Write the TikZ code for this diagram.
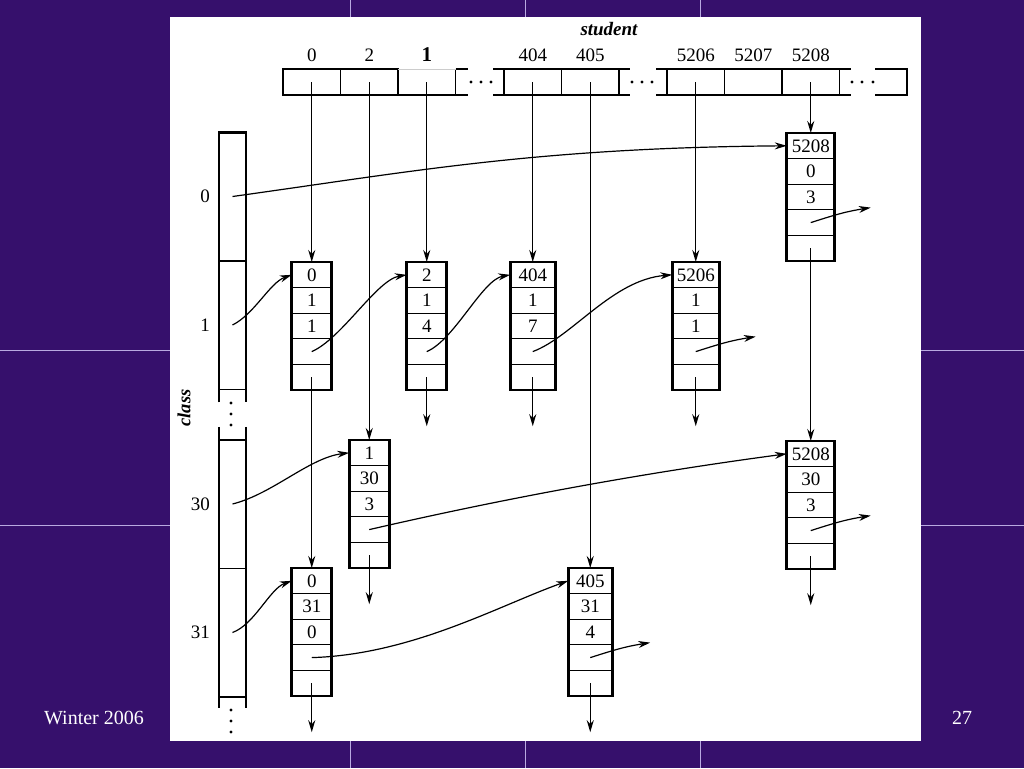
\documentclass[tikz,border=0pt]{standalone}
\usepackage{fontspec}
\setmainfont{Liberation Serif}
\usetikzlibrary{positioning,arrows.meta}
\definecolor{slidebg}{RGB}{54,16,108}
\definecolor{tileline}{RGB}{185,170,225}
\tikzset{
    cell/.style = {rectangle, draw, line width=1.3pt, minimum height=25.6pt, inner sep=0pt, outer sep=0pt, font=\fontsize{19}{21}\selectfont},
    field/.style = {rectangle, line width=1.8pt, minimum width=57.5pt, minimum height=26pt, inner sep=0pt, outer sep=0pt},
    slot/.style = {rectangle, draw, line width=1.5pt, minimum width=27pt, minimum height=128.5pt, inner sep=0pt, outer sep=0pt},
    tag/.style = {inner sep=0pt, font=\fontsize{19}{21}\selectfont},
    rim/.style = {line width=2.6pt},
    arrow/.style = {line width=1.4pt,->,>={Stealth[length=12pt,width=7pt]}},
    link/.style = {line width=1.2pt,->,>={Stealth[length=12pt,width=7pt]}}
}
% one enrollment record: name, position, width, three fields
\newcommand{\record}[6]{%
  \node (#1-1) [cell, minimum width=#3] at (#2) {#4};
  \node (#1-2) [cell, minimum width=#3, below=0pt of #1-1] {#5};
  \node (#1-3) [cell, minimum width=#3, below=0pt of #1-2] {#6};
  \node (#1-4) [cell, minimum width=#3, below=0pt of #1-3] {};
  \node (#1-5) [cell, minimum width=#3, below=0pt of #1-4] {};
  \draw [rim] (#1-1.north west) rectangle (#1-5.south east);
}

\begin{document}
\begin{tikzpicture}[x=1pt, y=-1pt]
\useasboundingbox (0,0) rectangle (1024,768);
% slide
\fill [slidebg] (0,0) rectangle (1024,768);
\foreach \x in {350,525,700} \draw [tileline] (\x,0) -- (\x,768);
\foreach \y in {350,525} \draw [tileline] (0,\y) -- (1024,\y);
\fill [white] (170,17) rectangle (921,741);
\node (foot) [text=white, font=\fontsize{20}{22}\selectfont] at (94,718) {Winter 2006};
\node (page) [text=white, font=\fontsize{20}{22}\selectfont] at (962,718) {27};

% student array
\node (s0) [field, draw] at (311.75,82) {};
\node (s2) [field, draw, right=0pt of s0] {};
\node (s1) [field, right=0pt of s2] {};
\draw [line width=1.8pt] (s1.north west) -- (s1.south west) -- (s1.south east) -- (s1.north east);
\draw [gray!40] (s1.north west) -- (s1.north east);
\draw [line width=1.8pt] (s1.north east) -- +(12,0) (s1.south east) -- +(12,0);
\node (s404) [field, draw] at (532.75,82) {};
\node (s405) [field, draw, right=0pt of s404] {};
\draw [line width=1.8pt] (s404.north west) -- +(-11,0) (s404.south west) -- +(-11,0);
\draw [line width=1.8pt] (s405.north east) -- +(11,0) (s405.south east) -- +(11,0);
\node (s5206) [field, draw] at (695.75,82) {};
\node (s5207) [field, draw, right=0pt of s5206] {};
\node (s5208) [field, draw, right=0pt of s5207] {};
\draw [line width=1.8pt] (s5206.north west) -- +(-11,0) (s5206.south west) -- +(-11,0);
\draw [line width=1.8pt] (s5208.north east) -- +(11,0) (s5208.south east) -- +(11,0);
\draw [line width=1.8pt] (875,69) -- (907,69) -- (907,95) -- (875,95);
\draw [rim] (s0.north west) -- (s0.south west);
\foreach \x in {471,481,491,632,642,652,852,862,873} \fill (\x,82) circle (1.6pt);

\node (t0) [tag, above=7pt of s0] {0};
\node (t2) [tag, above=7pt of s2] {2};
\node (t1) [tag, above=7pt of s1, font=\fontsize{21}{23}\selectfont\bfseries] {1};
\node (t404) [tag, above=7pt of s404] {404};
\node (t405) [tag, above=7pt of s405] {405};
\node (t5206) [tag, above=7pt of s5206] {5206};
\node (t5207) [tag, above=7pt of s5207] {5207};
\node (t5208) [tag, above=7pt of s5208] {5208};
\node (stu) [font=\fontsize{19}{20}\selectfont\bfseries\itshape] at (609,29) {student};

% class array
\node (c0) [slot] at (232.5,196.5) {};
\node (c1) [slot, below=0pt of c0] {};
\draw [rim] ([yshift=-13pt]c1.south west) -- (c0.north west) -- (c0.north east) -- ([yshift=-13pt]c1.south east);
\node (c30) [slot] at (232.5,504) {};
\node (c31) [slot, below=0pt of c30] {};
\draw [rim] ([yshift=13pt]c30.north west) -- ([yshift=-11pt]c31.south west);
\draw [rim] ([yshift=13pt]c30.north east) -- ([yshift=-11pt]c31.south east);
\foreach \y in {403,414,425,710,721,732} \fill (231,\y) circle (1.6pt);

\node (k0) [tag, left=9pt of c0] {0};
\node (k1) [tag, left=9pt of c1] {1};
\node (k30) [tag, left=9pt of c30] {30};
\node (k31) [tag, left=9pt of c31] {31};
\node (cls) [font=\fontsize{18.5}{20}\selectfont\bfseries\itshape, rotate=90] at (184,408) {class};

% records
\record{n0c1}{s0 |- 0,274.8}{40pt}{0}{1}{1}
\record{n2c1}{s1 |- 0,274.8}{40pt}{2}{1}{4}
\record{n404c1}{s404 |- 0,274.8}{45pt}{404}{1}{7}
\record{n5206c1}{s5206 |- 0,274.8}{47pt}{5206}{1}{1}
\record{n5208c0}{s5208 |- 0,145.8}{48pt}{5208}{0}{3}
\record{n1c30}{s2 |- 0,452.8}{40pt}{1}{30}{3}
\record{n5208c30}{s5208 |- 0,453.8}{48pt}{5208}{30}{3}
\record{n0c31}{s0 |- 0,580.8}{40pt}{0}{31}{0}
\record{n405c31}{s405 |- 0,580.8}{44pt}{405}{31}{4}

% student pointers
\draw [arrow] (s0.center) -- (n0c1-1.north);
\draw [arrow] (n0c1-5.center) -- (n0c31-1.north);
\draw [arrow] (s2.center) -- (n1c30-1.north);
\draw [arrow] (s1.center) -- (n2c1-1.north);
\draw [arrow] (s404.center) -- (n404c1-1.north);
\draw [arrow] (s405.center) -- (n405c31-1.north);
\draw [arrow] (s5206.center) -- (n5206c1-1.north);
\draw [arrow] (s5208.center) -- (n5208c0-1.north);
\draw [arrow] (n5208c0-5.center) -- (n5208c30-1.north);
\foreach \r in {n0c31,n1c30,n2c1,n404c1,n405c31,n5206c1,n5208c30} {
  \coordinate (\r-end) at ([yshift=-49pt]\r-5.center);
  \draw [arrow] (\r-5.center) -- (\r-end);
}

% class pointers
\draw [link] (c0.center) .. controls +(180,-25) and +(-250,2) .. (n5208c0-1.west);
\draw [link] (c1.center) .. controls +(22,-11) and +(-22,8) .. (n0c1-1.west);
\draw [link] (n0c1-4.center) .. controls +(30,-13) and +(-30,5) .. (n2c1-1.west);
\draw [link] (n2c1-4.center) .. controls +(28,-12) and +(-28,5) .. (n404c1-1.west);
\draw [link] (n404c1-4.center) .. controls +(40,-15) and +(-60,5) .. (n5206c1-1.west);
\draw [link] (c30.center) .. controls +(40,-10) and +(-40,5) .. (n1c30-1.west);
\draw [link] (n1c30-4.center) .. controls +(130,-30) and +(-150,20) .. (n5208c30-1.west);
\draw [link] (c31.center) .. controls +(22,-8) and +(-22,8) .. (n0c31-1.west);
\draw [link] (n0c31-4.center) .. controls +(100,-3) and +(-70,25) .. (n405c31-1.west);
\foreach \r in {n5206c1,n5208c0,n5208c30,n405c31} {
  \coordinate (\r-out) at ([shift={(60pt,15pt)}]\r-4.center);
  \draw [link] (\r-4.center) .. controls +(25,-8) and +(-25,4) .. (\r-out);
}
\end{tikzpicture}
\end{document}
